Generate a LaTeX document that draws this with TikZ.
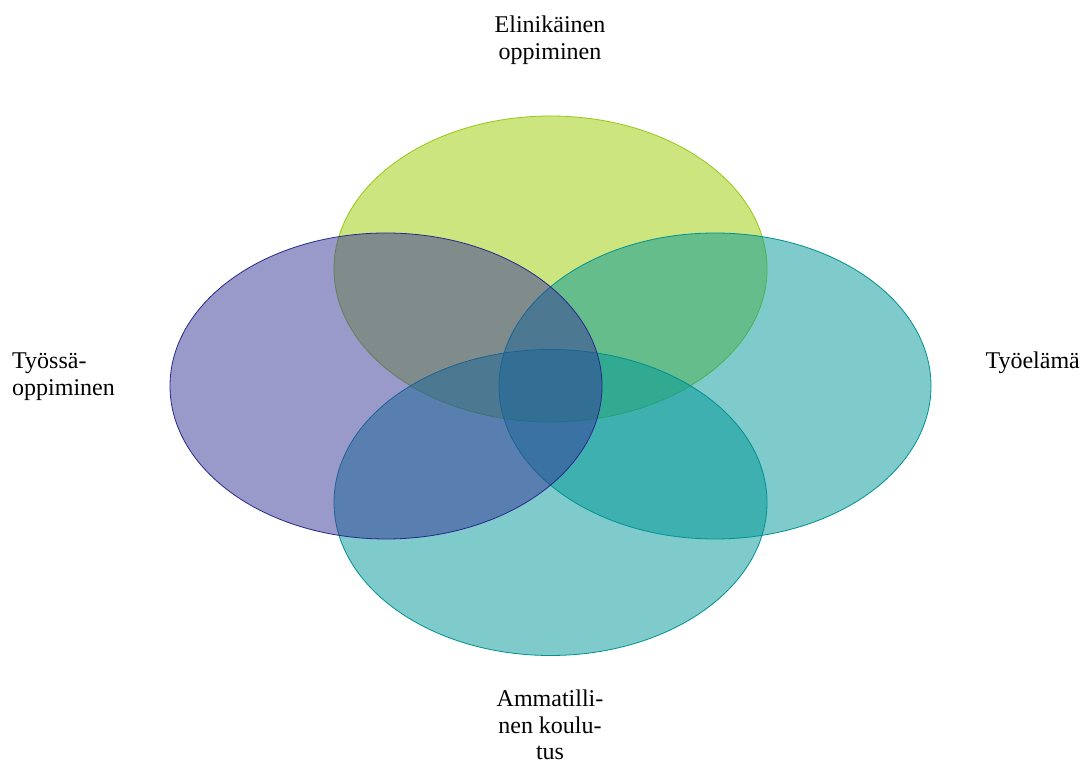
\documentclass[tikz,border=0pt]{standalone}
\usepackage{fontspec}
\setmainfont{Liberation Serif}
\definecolor{cgreen}{RGB}{155,205,0}
\definecolor{cgreenline}{RGB}{150,200,20}
\definecolor{cblue}{RGB}{53,53,151}
\definecolor{cblueline}{RGB}{40,40,140}
\definecolor{cteal}{RGB}{0,151,151}
\definecolor{ctealline}{RGB}{0,145,145}
\begin{document}
\begin{tikzpicture}[x=1pt,y=1pt,
  venn/.style={line width=0.8pt, fill opacity=0.5},
  lbl/.style={inner sep=0pt, font=\fontsize{24}{26.5}\selectfont}]
\useasboundingbox (0,0) rectangle (1091,765);
\fill[white] (0,0) rectangle (1091,765);
\path[venn, draw=cgreenline, fill=cgreen] (550.5,496) ellipse [x radius=216.5, y radius=153];
\path[venn, draw=ctealline, fill=cteal] (715,379) ellipse [x radius=216, y radius=153];
\path[venn, draw=ctealline, fill=cteal] (550.5,262.5) ellipse [x radius=216.5, y radius=153];
\path[venn, draw=cblueline, fill=cblue] (386,379) ellipse [x radius=216, y radius=153];
\node[lbl, align=center] (top) at (550,725) {Elinikäinen\\oppiminen};
\node[lbl, align=left, anchor=west] (left) at (12,388.3) {Työssä-\\oppiminen};
\node[lbl, anchor=east] (right) at (1080,402.3) {Työelämä};
\node[lbl, align=center] (bottom) at (550,40) {Ammatilli-\\nen koulu-\\tus};
\end{tikzpicture}
\end{document}
